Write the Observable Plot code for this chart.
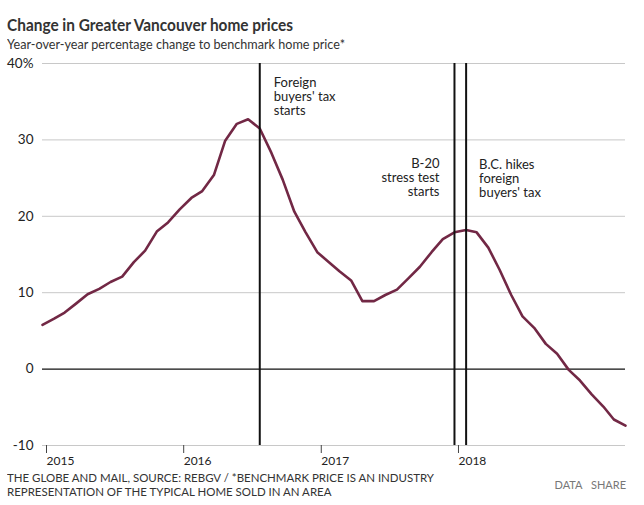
<!DOCTYPE html>
<html><head><meta charset="utf-8">
<script src="https://cdn.jsdelivr.net/npm/d3@7"></script>
<script src="https://cdn.jsdelivr.net/npm/@observablehq/plot@0.6"></script>
<style>
body{margin:0;background:#fff;font-family:Lato,"Noto Sans",sans-serif;}
#wrap{position:relative;width:644px;height:505px;overflow:hidden;}
.fit{white-space:nowrap;transform-origin:0 50%;display:inline-block;}
#title{position:absolute;left:7px;top:15px;font-size:17px;font-weight:700;line-height:20px;color:#333;}
#subtitle{position:absolute;left:7px;top:36px;font-size:14px;line-height:16px;color:#333;}
#chart{position:absolute;left:0;top:52px;}
#footer{position:absolute;left:7px;top:471px;font-size:12px;line-height:14px;color:#333;}
#links{position:absolute;right:18px;top:478px;font-size:11px;color:#777;word-spacing:6px;}
</style></head>
<body>
<div id="wrap">
  <div id="title"><span class="fit" id="t1">Change in Greater Vancouver home prices</span></div>
  <div id="subtitle"><span class="fit" id="t2">Year-over-year percentage change to benchmark home price*</span></div>
  <div id="chart"></div>
  <div id="footer"><span class="fit" id="f1">THE GLOBE AND MAIL, SOURCE: REBGV / *BENCHMARK PRICE IS AN INDUSTRY</span><br><span class="fit" id="f2">REPRESENTATION OF THE TYPICAL HOME SOLD IN AN AREA</span></div>
  <div id="links">DATA SHARE</div>
</div>
<script>
// ---- data ----
const months = [
  "2015-01","2015-02","2015-03","2015-04","2015-05","2015-06","2015-07","2015-08","2015-09","2015-10","2015-11","2015-12",
  "2016-01","2016-02","2016-03","2016-04","2016-05","2016-06","2016-07","2016-08","2016-09","2016-10","2016-11","2016-12",
  "2017-01","2017-02","2017-03","2017-04","2017-05","2017-06","2017-07","2017-08","2017-09","2017-10","2017-11","2017-12",
  "2018-01","2018-02","2018-03","2018-04","2018-05","2018-06","2018-07","2018-08","2018-09","2018-10","2018-11","2018-12",
  "2019-01","2019-02","2019-03","2019-04"
];
const yoyChange = [
  5.8, 6.6, 7.4, 8.6, 9.8, 10.5, 11.4, 12.1, 14.0, 15.5, 18.0, 19.2,
  20.9, 22.4, 23.3, 25.4, 29.9, 32.1, 32.7, 31.5, 28.3, 24.8, 20.6, 17.9,
  15.3, 14.0, 12.8, 11.6, 8.9, 8.9, 9.7, 10.4, 11.9, 13.4, 15.3, 17.0,
  17.9, 18.2, 17.9, 15.9, 13.0, 9.7, 6.9, 5.4, 3.3, 2.0, -0.1, -1.5,
  -3.3, -4.9, -6.6, -7.4
];
const yTicks = [-10, 0, 10, 20, 30, 40];
const yearTicks = ["2015-01-01", "2016-01-01", "2017-01-01", "2018-01-01"];
const eventDates = ["2016-08-01", "2018-01-01", "2018-02-01"];
const eventLabels = ["Foreign\nbuyers' tax\nstarts", "B-20\nstress test\nstarts", "B.C. hikes\nforeign\nbuyers' tax"];

// ---- build ----
const parse = d3.utcParse("%Y-%m");
const series = months.map((m, i) => ({date: parse(m), value: yoyChange[i]}));
const years = yearTicks.map(d => new Date(d));
const events = eventDates.map((d, i) => ({date: new Date(d), label: eventLabels[i]}));

const chart = Plot.plot({
  width: 644,
  height: 418,
  marginTop: 11,
  marginBottom: 25,
  marginLeft: 42,
  marginRight: 19,
  style: {fontFamily: "Lato, 'Noto Sans', sans-serif", color: "#222", background: "#fff"},
  x: {type: "utc", domain: [series[0].date, series[series.length - 1].date]},
  y: {domain: [-10, 40]},
  marks: [
    Plot.ruleY(yTicks.filter(d => d !== 0), {stroke: "#c8c8c8", strokeWidth: 1}),
    Plot.ruleY([0], {stroke: "#111", strokeWidth: 1.2}),
    Plot.axisY({ticks: yTicks, tickSize: 0, tickPadding: 9, fontSize: 13.5, label: null,
      tickFormat: d => d === 40 ? "40%" : String(d)}),
    Plot.axisX({ticks: years, tickSize: 8, tickPadding: 3, fontSize: 12, label: null,
      textAnchor: "start", dx: 4, stroke: "#444", tickFormat: d3.utcFormat("%Y")}),
    Plot.line(series, {x: "date", y: "value", stroke: "#722845", strokeWidth: 2.6, curve: "linear"}),
    Plot.ruleX(events, {x: "date", stroke: "#111", strokeWidth: 2}),
    Plot.text([events[0]], {x: "date", text: "label", frameAnchor: "top", lineAnchor: "top",
      textAnchor: "start", dx: 14, dy: 13, fontSize: 13, lineHeight: 1.1, fill: "#222"}),
    Plot.text([events[1]], {x: "date", text: "label", frameAnchor: "top", lineAnchor: "top",
      textAnchor: "end", dx: -15, dy: 94, fontSize: 13, lineHeight: 1.1, fill: "#222"}),
    Plot.text([events[2]], {x: "date", text: "label", frameAnchor: "top", lineAnchor: "top",
      textAnchor: "start", dx: 13, dy: 95, fontSize: 13, lineHeight: 1.1, fill: "#222"})
  ]
});
document.getElementById("chart").appendChild(chart);

function fit(id, w) {
  const el = document.getElementById(id);
  const r = el.getBoundingClientRect().width;
  const s = w / r;
  el.style.transform = `scaleX(${s})`;
  return s;
}
fit("t1", 286);
fit("t2", 338);
const s = fit("f1", 427);
document.getElementById("f2").style.transform = `scaleX(${s})`;
</script>
</body></html>
